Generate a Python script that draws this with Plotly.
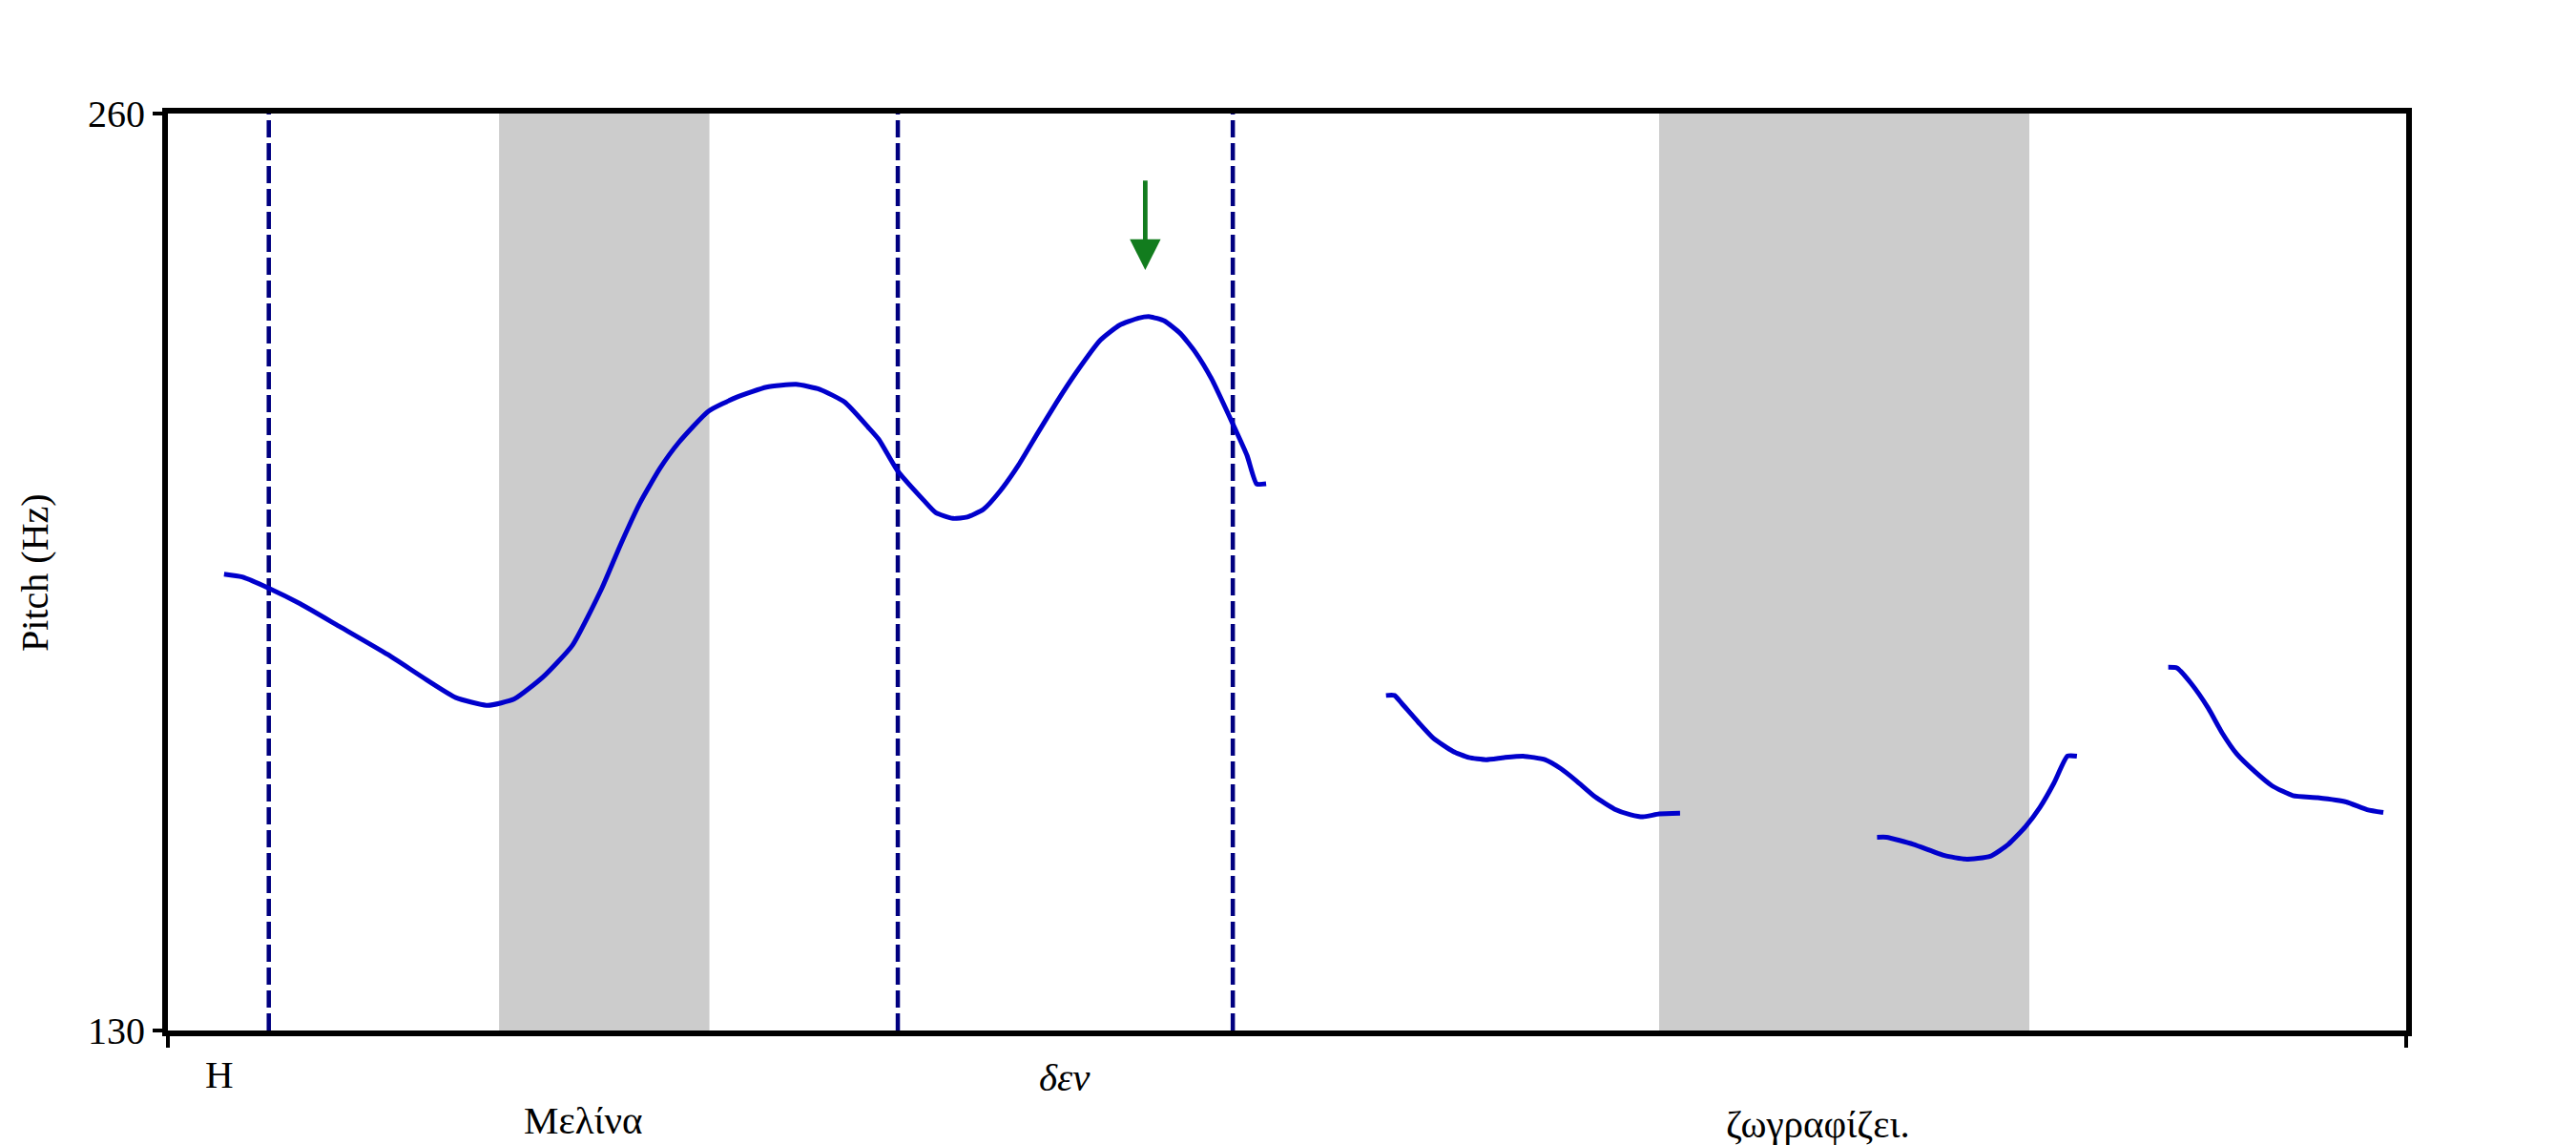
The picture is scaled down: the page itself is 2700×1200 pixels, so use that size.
import plotly.graph_objects as go

# ---- data (time in s, pitch in Hz) ----
t1 = [0.059, 0.078, 0.106, 0.139, 0.180, 0.231, 0.272, 0.3025, 0.336, 0.364, 0.394, 0.425,
      0.456, 0.476, 0.496, 0.517, 0.537, 0.568, 0.598, 0.629, 0.660, 0.685, 0.711, 0.736,
      0.747, 0.767, 0.794, 0.807, 0.825, 0.840, 0.857, 0.874, 0.894, 0.914, 0.934, 0.954,
      0.980, 1.000, 1.020, 1.032, 1.047, 1.064, 1.080, 1.097, 1.119, 1.134, 1.144, 1.154]
f1 = [194.7, 194.3, 192.7, 190.5, 187.3, 183.3, 179.7, 177.2, 176.1, 177.0, 180.1, 184.6,
      192.7, 199.0, 204.8, 209.7, 213.4, 217.8, 219.8, 221.2, 221.6, 220.9, 219.1, 215.5,
      213.8, 209.3, 205.2, 203.4, 202.6, 202.8, 203.9, 206.4, 210.2, 214.7, 219.1, 223.2,
      227.9, 230.0, 231.0, 231.2, 230.6, 228.8, 226.1, 222.3, 216.0, 211.5, 207.5, 207.5]

t2 = [1.280, 1.289, 1.297, 1.314, 1.330, 1.350, 1.367, 1.385, 1.404, 1.424, 1.447, 1.464,
      1.480, 1.500, 1.520, 1.537, 1.550, 1.567, 1.589]
f2 = [177.5, 177.5, 176.3, 173.7, 171.4, 169.6, 168.7, 168.4, 168.7, 168.9, 168.4, 167.1,
      165.4, 163.1, 161.4, 160.6, 160.3, 160.7, 160.8]

t3 = [1.796, 1.806, 1.834, 1.867, 1.889, 1.915, 1.934, 1.952, 1.967, 1.982, 1.996, 2.006]
f3 = [157.4, 157.4, 156.4, 154.8, 154.3, 154.7, 156.4, 158.9, 161.6, 165.1, 168.9, 168.9]

t4 = [2.102, 2.111, 2.126, 2.144, 2.159, 2.174, 2.193, 2.211, 2.233, 2.259, 2.289, 2.311, 2.328]
f4 = [181.5, 181.4, 179.2, 175.7, 172.1, 169.2, 166.7, 164.7, 163.3, 163.0, 162.4, 161.3, 160.9]

segments = [(t1, f1), (t2, f2), (t3, f3), (t4, f4)]

t_range = [0.0, 2.352]
f_range = [130, 260]
ytick_vals = [130, 260]
ytick_text = ["130", "260"]

boundaries = [0.106, 0.767, 1.119]           # word boundaries (dashed)
shaded = [(0.348, 0.569), (1.567, 1.956)]    # grey highlighted intervals

words = ["H", "Μελίνα", "<i>δεν</i>", "ζωγραφίζει."]
word_t = [0.054, 0.437, 0.942, 1.734]
word_row = [-0.0476, -0.0975, -0.0507, -0.1015]

arrow_t = 1.027
arrow_tail = 250.7
arrow_tip = 237.8

FONT = "Liberation Serif"
BLUE = "#0000cc"
NAVY = "#000080"
GREEN = "#127c1e"

fig = go.Figure()

for t, f in segments:
    fig.add_trace(go.Scatter(x=t, y=f, mode="lines",
                             line=dict(color=BLUE, width=5, shape="spline", smoothing=0.5),
                             showlegend=False, hoverinfo="skip"))

shapes = []
for a, b in shaded:
    shapes.append(dict(type="rect", xref="x", yref="paper", x0=a, x1=b, y0=0, y1=1,
                       fillcolor="#cccccc", line=dict(width=0), layer="below"))
for bnd in boundaries:
    shapes.append(dict(type="line", xref="x", yref="paper", x0=bnd, x1=bnd, y0=0, y1=1,
                       line=dict(color=NAVY, width=4.5, dash="18px,6px"), layer="below"))

annotations = []
for w, t, r in zip(words, word_t, word_row):
    annotations.append(dict(text=w, x=t, y=r, xref="x", yref="paper", showarrow=False,
                            xanchor="center", yanchor="middle",
                            font=dict(family=FONT, size=41, color="black")))
annotations.append(dict(text="Pitch (Hz)", x=-0.0595, y=0.5, xref="paper", yref="paper",
                        textangle=-90, showarrow=False, xanchor="center", yanchor="middle",
                        font=dict(family=FONT, size=40, color="black")))
annotations.append(dict(text="", x=arrow_t, y=arrow_tip, ax=arrow_t, ay=arrow_tail,
                        xref="x", yref="y", axref="x", ayref="y", showarrow=True,
                        arrowhead=2, arrowsize=1.35, arrowwidth=4.8, arrowcolor=GREEN,
                        standoff=0, startstandoff=0))

fig.update_layout(
    width=2700, height=1200,
    margin=dict(l=176, r=178, t=119, b=120),
    paper_bgcolor="white", plot_bgcolor="white",
    shapes=shapes, annotations=annotations,
    xaxis=dict(range=t_range, showgrid=False, zeroline=False,
               showline=True, linecolor="black", linewidth=6, mirror=True,
               tickvals=t_range, ticktext=["", ""], ticks="outside",
               ticklen=12, tickwidth=4, tickcolor="black"),
    yaxis=dict(range=f_range, showgrid=False, zeroline=False,
               showline=True, linecolor="black", linewidth=6, mirror=True,
               tickvals=ytick_vals, ticktext=ytick_text, ticks="outside",
               ticklen=10, tickwidth=4, tickcolor="black",
               tickfont=dict(family=FONT, size=40, color="black")),
)

fig.write_html("out.html",
               config={"displayModeBar": False},
               post_script="document.body.style.margin='0';document.body.style.overflow='hidden';")
